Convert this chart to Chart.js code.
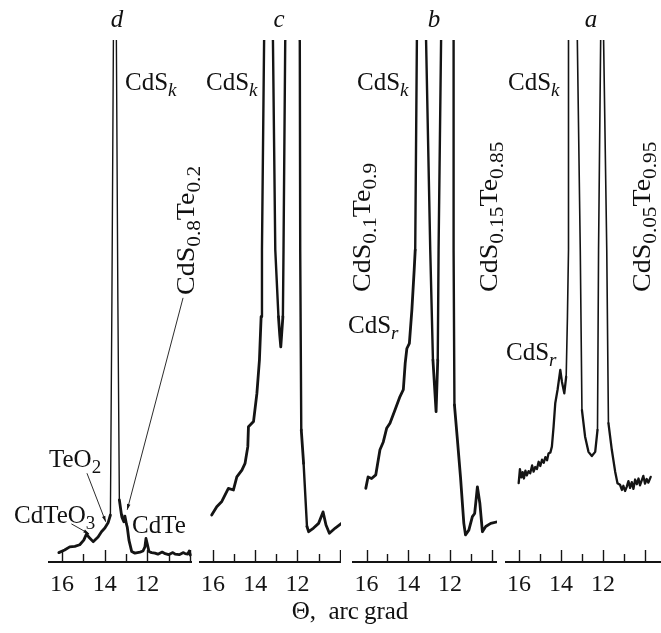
<!DOCTYPE html>
<html><head><meta charset="utf-8">
<script src="https://cdn.jsdelivr.net/npm/chart.js@4.4.0/dist/chart.umd.min.js"></script>
<style>
html,body{margin:0;padding:0;background:#fff;}
#root{position:relative;width:661px;height:633px;overflow:hidden;font-family:'Liberation Serif','Times New Roman',serif;color:#111;}
.pc{position:absolute;top:0;}
.lbl{position:absolute;font-size:25px;line-height:25px;white-space:nowrap;}
.lbl sub{font-size:19px;vertical-align:baseline;position:relative;top:6px;line-height:0;}
.lbl sub.it{font-style:italic;}
.rot{transform-origin:0 0;transform:rotate(-90deg) scaleX(1.12);}
.let{font-style:italic;transform:translateX(-50%);}
.ttl{transform:translateX(-50%);}
</style></head>
<body><div id="root"></div>
<script>
// ---------- data ----------
const panelLetters = ['d','c','b','a'];
const tickLabels = ['16','14','12'];

// panel d
const thetaD = [16.15,15.88,15.64,15.40,15.17,14.98,14.85,14.75,14.54,14.31,14.15,13.99,13.84,13.73,13.66,13.59,13.51,13.45,13.38,13.31,13.21,13.19,13.10,13.05,12.98,12.94,12.86,12.73,12.58,12.34,12.20,12.11,12.06,11.99,11.92,11.80,11.64,11.50,11.30,11.16,11.00,10.80,10.69,10.50,10.30,10.22,10.10,10.03,9.98];
const intensityD = [1.8,2.3,2.9,3.0,3.3,4.2,5.4,4.8,3.9,4.8,5.8,6.5,7.5,9.0,50,100,140,100,50,11.9,9.0,8.6,7.7,8.8,7.3,6.7,4.2,2.0,1.7,1.9,2.1,2.9,4.5,3.3,2.0,1.8,1.7,1.5,1.9,1.6,1.4,1.8,1.5,1.4,1.8,1.6,1.5,2.1,1.3];

// panel c
const thetaC = [16.06,15.82,15.58,15.27,15.03,14.87,14.63,14.48,14.35,14.32,14.08,13.92,13.80,13.72,13.68,13.58,13.36,13.16,13.05,12.90,12.84,12.79,12.75,12.69,12.66,12.58,12.22,11.89,11.87,11.82,11.71,11.55,11.47,11.24,11.00,10.79,10.65,10.49,10.21,9.89];
const intensityC = [9.0,10.6,11.6,14.1,13.8,16.3,17.6,18.9,22.1,25.9,26.9,32.3,38.7,47,59.8,99.6,150,99.6,59.8,47,43.5,41.2,43.5,47,59.8,99.6,150,99.6,59.8,25.3,18.9,6.8,5.8,6.5,7.4,9.6,7.1,5.5,6.5,7.5];

// panel b
const thetaB = [16.04,15.93,15.76,15.56,15.36,15.20,15.04,14.88,14.64,14.40,14.24,14.15,14.07,13.95,13.83,13.72,13.67,13.59,13.38,13.15,12.95,12.82,12.67,12.59,12.55,12.43,12.13,11.83,11.83,11.79,11.66,11.50,11.34,11.26,11.10,10.93,10.82,10.69,10.57,10.45,10.29,10.05,9.73];
const intensityB = [14.1,16.3,16.0,16.7,21.5,23.0,25.6,26.6,29.1,31.7,33.0,38.1,40.9,41.9,48.3,55.9,59.8,100,150,100,59.8,38.7,28.8,38.7,59.8,100,150,100,59.8,30.1,24.0,16.3,7.4,5.2,6.1,8.7,9.3,14.4,11.2,5.8,6.8,7.4,7.7];

// panel a
const thetaA = [16.01,15.95,15.88,15.82,15.76,15.69,15.62,15.54,15.46,15.37,15.30,15.22,15.14,15.06,14.98,14.90,14.82,14.74,14.66,14.59,14.50,14.43,14.35,14.27,14.16,14.03,13.95,13.84,13.75,13.69,13.64,13.64,13.43,13.22,13.08,13.00,12.85,12.69,12.53,12.37,12.26,12.21,12.11,12.04,11.97,11.82,11.74,11.58,11.42,11.31,11.19,11.10,11.03,10.95,10.87,10.79,10.71,10.63,10.55,10.47,10.39,10.31,10.24,10.16,10.08,10.00,9.92,9.84,9.73];
const intensityA = [15.1,17.8,16.2,17.2,16.0,17.5,16.6,17.4,17.0,18.5,17.3,18.2,17.8,19.2,18.4,19.6,19.0,20.1,19.5,20.8,21.0,22.1,25.9,30.4,33.0,36.8,34.5,32.3,35.5,47,59.8,100,150,100,59.8,29.1,24.0,21.1,20.3,21.1,25.3,59.8,100,150,100,59.8,26.6,21.5,17.3,15.1,14.8,13.8,14.6,13.6,14.4,15.5,14.2,15.3,14.0,15.8,14.9,16.0,14.7,15.6,16.5,15.0,15.9,15.2,16.3];

// leader lines in panel d (label end -> curve), [theta, intensity]
const leaderStart = [[14.83,17.0],[15.56,7.3],[10.32,50.6]];
const leaderEnd   = [[13.95,7.7],[14.73,5.4],[12.94,10.0]];

// ---------- layout ----------
const root = document.getElementById('root');
const panels = [
  {left:48, width:144, min:9.90, max:16.66, x:thetaD, y:intensityD, peakW:1.4, lineW:2.8, leaders:true},
  {left:199, width:142, min:9.94, max:16.66, x:thetaC, y:intensityC, peakW:2.4, lineW:2.8},
  {left:352, width:145, min:9.75, max:16.70, x:thetaB, y:intensityB, peakW:2.4, lineW:2.8},
  {left:505, width:156, min:9.24, max:16.66, x:thetaA, y:intensityA, peakW:1.6, lineW:2.3}
];
const INK = '#141414';

const innerTicks = {
  id:'innerTicks',
  afterDraw(chart){
    const s = chart.scales.x, ctx = chart.ctx, y0 = chart.chartArea.bottom;
    ctx.save(); ctx.strokeStyle = INK; ctx.lineWidth = 1.4;
    s.ticks.forEach(t => {
      const x = Math.round(s.getPixelForValue(t.value)) + 0.5;
      const major = Math.round(t.value) % 2 === 0;
      ctx.beginPath(); ctx.moveTo(x, y0); ctx.lineTo(x, y0 - (major ? 12 : 8)); ctx.stroke();
    });
    ctx.restore();
  }
};
const leaderPlugin = {
  id:'leaders',
  afterDatasetsDraw(chart, args, opts){
    if (!opts.on) return;
    const xs = chart.scales.x, ys = chart.scales.y, ctx = chart.ctx;
    ctx.save(); ctx.strokeStyle = INK; ctx.fillStyle = INK; ctx.lineWidth = 0.9;
    leaderStart.forEach((s, i) => {
      const x0 = xs.getPixelForValue(s[0]), y0 = ys.getPixelForValue(s[1]);
      const x1 = xs.getPixelForValue(leaderEnd[i][0]), y1 = ys.getPixelForValue(leaderEnd[i][1]);
      ctx.beginPath(); ctx.moveTo(x0, y0); ctx.lineTo(x1, y1); ctx.stroke();
      const a = Math.atan2(y1 - y0, x1 - x0), L = 6, w = 0.3;
      ctx.beginPath(); ctx.moveTo(x1, y1);
      ctx.lineTo(x1 - L*Math.cos(a - w), y1 - L*Math.sin(a - w));
      ctx.lineTo(x1 - L*Math.cos(a + w), y1 - L*Math.sin(a + w));
      ctx.closePath(); ctx.fill();
    });
    ctx.restore();
  }
};

panels.forEach((p, i) => {
  const cv = document.createElement('canvas');
  cv.className = 'pc';
  cv.style.left = p.left + 'px';
  cv.width = p.width; cv.height = 633;
  cv.style.width = p.width + 'px'; cv.style.height = '633px';
  root.appendChild(cv);
  new Chart(cv, {
    type:'line',
    data:{ datasets:[{
      label: panelLetters[i],
      data: p.x.map((t, k) => ({x:t, y:p.y[k]})),
      borderColor: INK, borderWidth: p.lineW, pointRadius: 0, tension: 0, fill:false,
      borderJoinStyle:'round', borderCapStyle:'round',
      segment:{ borderWidth: c => {
        const dx = Math.abs(c.p1.x - c.p0.x), dy = Math.abs(c.p1.y - c.p0.y);
        return (dy > 60 && dy > 6*dx) ? p.peakW : p.lineW;
      }}
    }]},
    options:{
      responsive:false, animation:false, devicePixelRatio:1,
      layout:{autoPadding:false, padding:{top:40, left:0, right:0, bottom:0}},
      plugins:{legend:{display:false}, tooltip:{enabled:false}, title:{display:false},
        leaders:{on: !!p.leaders}},
      scales:{
        x:{ type:'linear', reverse:true, min:p.min, max:p.max, position:'bottom',
          afterFit: s => { s.height = 633 - 562; s.paddingLeft = 0; s.paddingRight = 0; },
          grid:{display:false, drawTicks:false},
          border:{display:true, color:INK, width:2},
          ticks:{ stepSize:1, autoSkip:false, includeBounds:false, maxRotation:0, padding:8, color:INK,
            font:{family:"'Liberation Serif', serif", size:24},
            callback: v => tickLabels.includes(String(v)) ? String(v) : '' } },
        y:{ display:false, min:0, max:100 }
      }
    },
    plugins:[innerTicks, leaderPlugin]
  });
});

// ---------- text annotations ----------
function addLabel(html, left, top, cls){
  const d = document.createElement('div');
  d.className = 'lbl' + (cls ? ' ' + cls : '');
  d.style.left = left + 'px'; d.style.top = top + 'px';
  d.innerHTML = html; root.appendChild(d); return d;
}
const CdSk = 'CdS<sub class="it">k</sub>';
const CdSr = 'CdS<sub class="it">r</sub>';
addLabel(panelLetters[0], 117, 6, 'let');
addLabel(panelLetters[1], 279, 6, 'let');
addLabel(panelLetters[2], 434, 6, 'let');
addLabel(panelLetters[3], 591, 6, 'let');
addLabel(CdSk, 125, 69); addLabel(CdSk, 206, 69); addLabel(CdSk, 357, 69); addLabel(CdSk, 508, 69);
addLabel(CdSr, 348, 312); addLabel(CdSr, 506, 339);
addLabel('TeO<sub>2</sub>', 49, 446);
addLabel('CdTeO<sub>3</sub>', 14, 502);
addLabel('CdTe', 132, 512);
addLabel('CdS<sub>0.8</sub>Te<sub>0.2</sub>', 173, 295, 'rot');
addLabel('CdS<sub>0.1</sub>Te<sub>0.9</sub>', 349, 292, 'rot');
addLabel('CdS<sub>0.15</sub>Te<sub>0.85</sub>', 476, 292, 'rot');
addLabel('CdS<sub>0.05</sub>Te<sub>0.95</sub>', 629, 292, 'rot');
addLabel('&Theta;,&nbsp; arc&#8201;grad', 350, 598, 'ttl');
</script>
</body></html>
